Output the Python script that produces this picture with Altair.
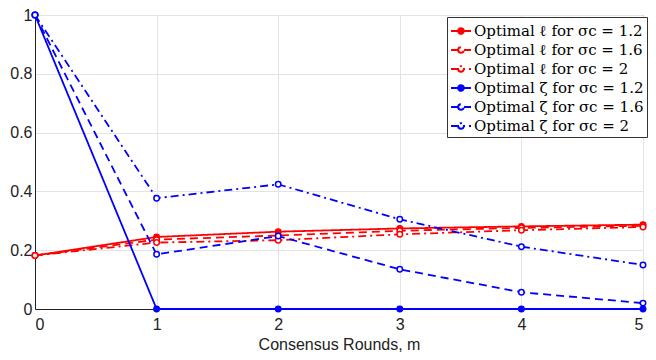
import altair as alt
import pandas as pd

rounds = [0, 1, 2, 3, 4, 5]
labels = [
    "Optimal ℓ for σc = 1.2",
    "Optimal ℓ for σc = 1.6",
    "Optimal ℓ for σc = 2",
    "Optimal ζ for σc = 1.2",
    "Optimal ζ for σc = 1.6",
    "Optimal ζ for σc = 2",
]
ell_12 = [0.182, 0.245, 0.263, 0.274, 0.281, 0.287]
ell_16 = [0.182, 0.236, 0.250, 0.266, 0.276, 0.283]
ell_20 = [0.182, 0.226, 0.234, 0.254, 0.268, 0.279]
zeta_12 = [1.0, 0.0, 0.0, 0.0, 0.0, 0.0]
zeta_16 = [1.0, 0.186, 0.248, 0.135, 0.057, 0.020]
zeta_20 = [1.0, 0.377, 0.424, 0.305, 0.212, 0.150]
series_vals = [ell_12, ell_16, ell_20, zeta_12, zeta_16, zeta_20]
colors = ["#ff0000", "#ff0000", "#ff0000", "#0000ff", "#0000ff", "#0000ff"]
fills = ["#ff0000", "#ffffff", "#ffffff", "#0000ff", "#ffffff", "#ffffff"]
dashes = [[1, 0], [8, 5], [8, 4, 2, 4], [1, 0], [8, 5], [8, 4, 2, 4]]

rows = []
for lab, vals in zip(labels, series_vals):
    for m, v in zip(rounds, vals):
        rows.append({"series": lab, "m": m, "value": v})
df = pd.DataFrame(rows)

xscale = alt.Scale(domain=[0, 5], nice=False)
yscale = alt.Scale(domain=[0, 1], nice=False)
cscale = alt.Scale(domain=labels, range=colors)
fscale = alt.Scale(domain=labels, range=fills)
dscale = alt.Scale(domain=labels, range=dashes)

x = alt.X("m:Q", scale=xscale, title="Consensus Rounds, m",
          axis=alt.Axis(values=rounds, format="~g"))
y = alt.Y("value:Q", scale=yscale, title=None,
          axis=alt.Axis(values=[0, 0.2, 0.4, 0.6, 0.8, 1], format="~g"))

sym = "M-1,0L1,0M-0.28,0a0.28,0.28 0 1,0 0.56,0a0.28,0.28 0 1,0 -0.56,0"

leg = alt.Legend(title=None, orient="none", legendX=412, legendY=2,
                 symbolType=sym, symbolSize=400, symbolStrokeWidth=2,
                 labelFont="DejaVu Serif", labelFontSize=15, labelColor="#000000",
                 labelLimit=300, rowPadding=0, labelOffset=2,
                 strokeColor="#333333", fillColor="white", padding=3)

lines = alt.Chart(df).mark_line(strokeWidth=1.8).encode(
    x=x, y=y,
    color=alt.Color("series:N", scale=cscale, sort=labels, legend=leg),
    strokeDash=alt.StrokeDash("series:N", scale=dscale, sort=labels, legend=leg),
)

pts = alt.Chart(df).mark_point(size=30, filled=False, strokeWidth=1.5, opacity=1).encode(
    x=x, y=y,
    color=alt.Color("series:N", scale=cscale, sort=labels, legend=leg),
    fill=alt.Fill("series:N", scale=fscale, sort=labels, legend=leg),
)

chart = alt.layer(lines, pts).properties(
    width=608, height=294,
    autosize=alt.AutoSizeParams(type="none"),
    padding={"left": 27, "top": 7, "right": 5, "bottom": 44},
).configure_view(stroke="#222222", strokeWidth=1).configure_axis(
    labelFont="Liberation Sans", labelFontSize=16, labelColor="#222222",
    titleFont="Liberation Sans", titleFontSize=16, titleColor="#222222", titleFontWeight="normal",
    gridColor="#e3e3e3", gridWidth=1, domainColor="#222222", tickColor="#222222",
    tickSize=0,
).configure_axisX(labelPadding=7, titlePadding=4).configure_axisY(labelPadding=3).configure_legend(
    labelFont="DejaVu Serif", labelFontSize=15, labelColor="#000000",
)

chart.save("out.html", embed_options={"renderer": "svg", "actions": False})
